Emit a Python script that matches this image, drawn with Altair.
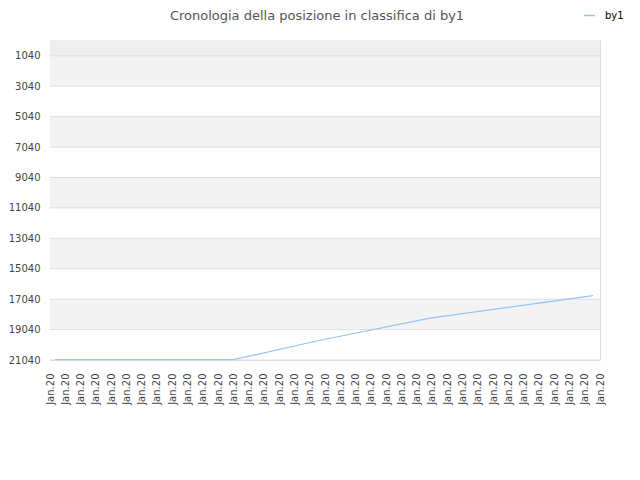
import altair as alt
import pandas as pd

# ---- data ----
title_text = ["Cronologia della posizione in classifica di by1"]
x_labels = ["Jan.20"] * 37
y_ticks = [1040, 3040, 5040, 7040, 9040, 11040, 13040, 15040, 17040, 19040, 21040]
# line points: fractional position along the date axis, rank
pos = [0.33, 11.98, 17.6, 24.87, 35.54]
rank = [21020, 21020, 19760, 18290, 16810]
series = "by1"

FONT = "DejaVu Sans"
LINE_COLOR = "#94c4f4"
Y_MIN, Y_MAX = 0, 21040

line_df = pd.DataFrame({"pos": pos, "rank": rank, "serie": [series] * len(pos)})

# alternating background bands built from tick values
edges = [Y_MIN] + y_ticks
band_rows = []
for i in range(len(edges) - 1):
    if i == 0:
        col = "#eeeeee"
    elif i % 2 == 1:
        col = "#f3f3f3"
    else:
        col = "#ffffff"
    band_rows.append({"y0": edges[i], "y1": edges[i + 1], "c": col})
bands_df = pd.DataFrame(band_rows)

xscale = alt.Scale(domain=[0, len(x_labels) - 1], nice=False, zero=False)
yscale = alt.Scale(domain=[Y_MIN, Y_MAX], reverse=True, nice=False, zero=False)

label_js = "[" + ",".join("'" + s + "'" for s in x_labels) + "]"

yaxis = alt.Axis(
    values=y_ticks,
    format="d",
    labelFont=FONT,
    labelFontSize=10,
    labelColor="#444444",
    labelPadding=10,
    ticks=False,
    domain=False,
    grid=False,
    title=None,
    labelOverlap=False,
    labelFlush=False,
)

xaxis = alt.Axis(
    values=list(range(len(x_labels))),
    labelExpr=label_js + "[datum.value]",
    labelAngle=-90,
    labelAlign="right",
    labelBaseline="middle",
    labelFont=FONT,
    labelFontSize=10,
    labelColor="#444444",
    labelPadding=13,
    ticks=False,
    domain=False,
    grid=False,
    title=None,
    labelOverlap=False,
    labelBound=False,
    labelFlush=False,
)

bands = alt.Chart(bands_df).mark_rect().encode(
    x=alt.value(0),
    x2=alt.value(550),
    y=alt.Y("y0:Q", scale=yscale, axis=yaxis),
    y2="y1:Q",
    fill=alt.Fill("c:N", scale=None, legend=None),
)

grid = alt.Chart(pd.DataFrame({"t": y_ticks})).mark_rule(color="#dedede", strokeWidth=1).encode(
    y=alt.Y("t:Q", scale=yscale, axis=yaxis),
    x=alt.value(0),
    x2=alt.value(550),
)

line = alt.Chart(line_df).mark_line(strokeWidth=1.2).encode(
    x=alt.X("pos:Q", scale=xscale, axis=xaxis),
    y=alt.Y("rank:Q", scale=yscale, axis=yaxis),
    color=alt.Color(
        "serie:N",
        scale=alt.Scale(range=[LINE_COLOR]),
        legend=alt.Legend(
            title=None,
            orient="none",
            legendX=533,
            legendY=-31,
            symbolType="stroke",
            symbolStrokeWidth=1.5,
            symbolSize=120,
            labelOffset=9,
            labelFont=FONT,
            labelFontSize=10,
            labelColor="#000000",
        ),
    ),
)

title = alt.Chart(pd.DataFrame({"t": title_text})).mark_text(
    font=FONT,
    fontSize=13,
    color="#555555",
    align="center",
    baseline="alphabetic",
).encode(
    text="t:N",
    x=alt.value(267),
    y=alt.value(-20),
)

chart = (
    alt.layer(bands, grid, line, title)
    .properties(
        width=550,
        height=320,
        autosize=alt.AutoSizeParams(type="none"),
        padding={"left": 42, "top": 32, "right": 30, "bottom": 60},
    )
    .configure_view(stroke="#dddddd", strokeWidth=1)
    .configure(background="white")
)

chart.save("out.html", embed_options={"renderer": "svg", "actions": False})
